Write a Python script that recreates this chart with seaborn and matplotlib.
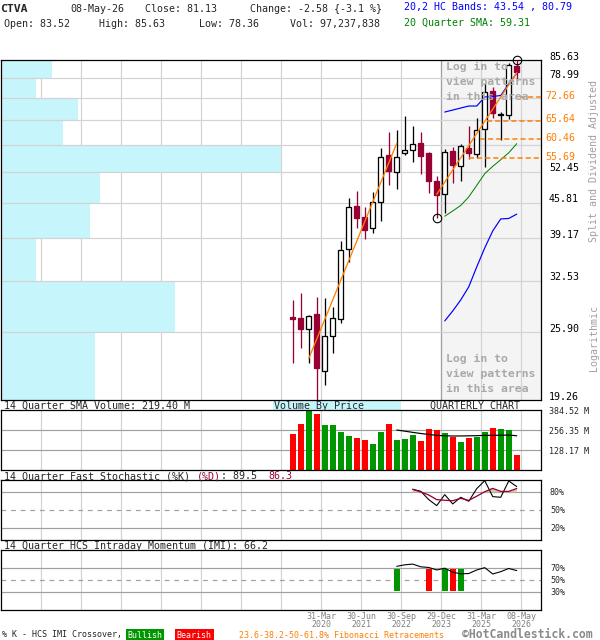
import numpy as np
import pandas as pd
import matplotlib
matplotlib.use("Agg")
import matplotlib.pyplot as plt
from matplotlib.patches import Rectangle
from matplotlib.ticker import NullLocator
import seaborn as sns

# ---------------- data ----------------
quarters = ["2019Q2", "2019Q3", "2019Q4",
            "2020Q1", "2020Q2", "2020Q3", "2020Q4",
            "2021Q1", "2021Q2", "2021Q3", "2021Q4",
            "2022Q1", "2022Q2", "2022Q3", "2022Q4",
            "2023Q1", "2023Q2", "2023Q3", "2023Q4",
            "2024Q1", "2024Q2", "2024Q3", "2024Q4",
            "2025Q1", "2025Q2", "2025Q3", "2025Q4",
            "2026Q1", "2026Q2"]
opens = [27.76, 27.57, 26.27, 28.10, 21.91, 25.54, 27.49, 37.30, 45.14, 43.06,
         40.92, 46.00, 56.44, 52.32, 57.00, 57.60, 59.58, 56.85, 50.36, 47.51,
         57.43, 53.70, 58.13, 56.68, 63.19, 74.76, 67.15, 67.21, 83.52]
highs = [29.88, 30.85, 27.95, 30.32, 30.18, 29.01, 38.70, 46.69, 48.27, 45.00,
         47.93, 58.13, 62.53, 63.00, 67.09, 64.11, 62.45, 57.25, 51.48, 57.86,
         58.37, 59.17, 64.11, 66.33, 77.32, 76.08, 68.15, 84.50, 85.63]
lows = [22.69, 24.17, 22.69, 19.26, 20.58, 23.65, 27.05, 35.35, 41.03, 39.10,
        40.04, 42.31, 49.48, 48.69, 56.44, 54.80, 51.93, 47.84, 42.74, 43.70,
        49.99, 50.42, 55.39, 55.63, 53.47, 66.40, 60.29, 66.20, 78.36]
closes = [27.52, 26.27, 27.85, 22.21, 25.51, 27.57, 37.20, 44.88, 42.76, 40.68,
          45.88, 55.88, 52.69, 55.88, 57.60, 59.17, 56.26, 50.42, 47.36, 57.25,
          53.94, 58.80, 57.00, 63.00, 74.53, 67.88, 67.45, 83.71, 81.13]
volumes_m = [231.1, 291.6, 384.52, 360.7, 289.4, 289.4, 246.3, 218.2, 205.2, 192.3,
             166.3, 244.1, 295.9, 192.3, 198.7, 224.7, 185.8, 263.5, 257.1, 237.6,
             213.9, 179.3, 205.2, 213.9, 244.1, 270.0, 263.5, 257.1, 97.24]

# indicator series (start index = first quarter where the series is shown)
band_start = 19
hc_upper = [68.15, 68.75, 69.36, 69.97, 69.97, 72.80, 72.96, 73.28, 77.08, 80.79]
hc_lower = [27.25, 28.47, 29.88, 31.64, 34.54, 37.54, 40.45, 42.63, 42.72, 43.54]
sma20 = [43.14, 44.15, 45.23, 46.96, 49.39, 52.00, 53.70, 55.29, 56.99, 59.31]

volsma_start = 13
vol_sma14 = [256.0, 249.0, 241.0, 234.0, 228.0, 222.0, 219.0, 218.0, 218.0, 219.0,
             220.0, 222.0, 222.0, 223.0, 224.0, 219.40]

stoch_start = 15
stoch_k = [85.0, 81.7, 67.8, 57.8, 76.1, 60.6, 71.7, 65.0, 86.1, 99.4, 72.8, 71.7, 98.9, 89.5]
stoch_d = [85.0, 80.6, 75.5, 67.8, 66.7, 66.0, 70.0, 66.5, 73.5, 81.0, 86.5, 81.5, 81.5, 86.3]

imi_start = 13
imi = [73.3, 75.8, 77.0, 72.5, 71.4, 67.2, 70.2, 63.5, 60.8, 61.3, 67.2, 71.1, 60.5, 64.4, 69.7, 66.2]

cross_idx = [13, 17, 19, 20, 21]
cross_type = ["bull", "bear", "bull", "bear", "bull"]

fib_levels = [72.66, 65.64, 60.46, 55.69]
trend1_x, trend1_y = [2, 13], [23.1, 59.4]
trend2_x, trend2_y = [18, 28], [47.5, 81.0]
pivot_x, pivot_y = [18, 28], [42.74, 85.63]

# volume by price, bins between price grid levels (bottom -> top), millions
price_ticks = [19.26, 25.90, 32.53, 39.17, 45.81, 52.45, 59.08, 65.72, 72.36, 78.99, 85.63]
vbp_volume = [655, 1208, 246, 621, 690, 1939, 433, 536, 246, 357]

date_idx = [3, 8, 13, 18, 23, 28]
date_days = ["31-Mar", "30-Jun", "30-Sep", "29-Dec", "31-Mar", "08-May"]
date_years = ["2020", "2021", "2022", "2023", "2025", "2026"]

# ---------------- style ----------------
sns.set_style("white")
plt.rcParams["font.family"] = ["DejaVu Sans Mono", "DejaVu Sans"]
plt.rcParams["axes.linewidth"] = 0.9

W, H = 600, 640
PX = 0.72  # points per pixel at 100 dpi
fig = plt.figure(figsize=(6, 6.4), dpi=100)


def rect(x0, y0, x1, y1):
    return [x0 / W, 1 - y1 / H, (x1 - x0) / W, (y1 - y0) / H]


def ftext(px, py, s, **kw):
    kw.setdefault("va", "center")
    kw.setdefault("fontsize", 7.2)
    return fig.text(px / W, 1 - py / H, s, **kw)


idx = np.arange(len(quarters))
XMIN, XMAX = -36.53, 30.97
grid_x = [3.5 + 5 * k for k in range(-7, 6)]
GRID = "#d3d3d3"
DGRID = "#a0a0a0"
MAROON = "#990033"
GREEN = "#009600"
RED = "#ff0000"
ORANGE = "#ff7f00"

ax = fig.add_axes(rect(0.5, 60, 540.5, 400))
axv = fig.add_axes(rect(0.5, 410, 540.5, 470))
axs = fig.add_axes(rect(0.5, 480.3, 540.5, 540.3))
axi = fig.add_axes(rect(0.5, 550.3, 540.5, 610.3))

for a in (ax, axv, axs, axi):
    a.set_xlim(XMIN, XMAX)
    a.set_xticks(grid_x)
    a.set_axisbelow(True)
    a.grid(axis="x", color=GRID, lw=PX * 1.2)
    a.tick_params(left=False, bottom=False, labelleft=False, labelbottom=False)
    for s in a.spines.values():
        s.set_color("black")

# ---------------- main price chart ----------------
ax.set_yscale("log")
ax.set_ylim(price_ticks[0], price_ticks[-1])
ax.set_yticks(price_ticks)
ax.yaxis.set_minor_locator(NullLocator())
ax.tick_params(which="both", left=False, labelleft=False)
ax.axvspan(18.5, XMAX, color="#f4f4f4", zorder=0.2, lw=0)
ax.axvline(18.5, color=DGRID, lw=PX * 1.2, zorder=0.6)
for t in price_ticks[1:-1]:
    ax.axhline(t, color=GRID, lw=PX * 1.2, zorder=1.5)

# volume by price
vbp_scale = 35.1 / max(vbp_volume)
ax.barh(price_ticks[:-1], np.array(vbp_volume) * vbp_scale, height=np.diff(price_ticks),
        left=XMIN, align="edge", color="#c6f5fc", lw=0, zorder=1)

o = np.array(opens); c = np.array(closes)
bear = c < o
wick_col = [MAROON if b else "black" for b in bear]
ax.vlines(idx, lows, highs, colors=wick_col, lw=PX * 1.3, zorder=3)
ax.bar(idx, np.maximum(np.abs(c - o), 0.05), bottom=np.minimum(o, c), width=0.66,
       color=[MAROON if b else "white" for b in bear], edgecolor=wick_col,
       lw=PX * 1.3, zorder=4)

bx = idx[band_start:]
bands = pd.DataFrame({"q": bx, "upper": hc_upper, "lower": hc_lower, "sma": sma20})
sns.lineplot(data=bands, x="q", y="upper", ax=ax, color="#0000ff", lw=PX * 1.2, zorder=5)
sns.lineplot(data=bands, x="q", y="lower", ax=ax, color="#0000ff", lw=PX * 1.2, zorder=5)
sns.lineplot(data=bands, x="q", y="sma", ax=ax, color="#008000", lw=PX * 1.0, zorder=5)

sns.lineplot(x=trend1_x, y=trend1_y, ax=ax, color=ORANGE, lw=PX * 1.3, zorder=6)
sns.lineplot(x=trend2_x, y=trend2_y, ax=ax, color=ORANGE, lw=PX * 1.3, zorder=6)

fib_from = [28.4, 24.3, 23.4, 22.0]
for lvl, x0 in zip(fib_levels, fib_from):
    ax.hlines(lvl, x0, XMAX, colors=ORANGE, lw=1.1, linestyles=[(0, (3.3, 2.0))], zorder=6)
    ax.annotate(f"{lvl:.2f}", xy=(1, lvl), xycoords=("axes fraction", "data"),
                xytext=(4.5 * PX, 1.5 * PX), textcoords="offset points",
                ha="left", va="center", fontsize=7.2, color=ORANGE, annotation_clip=False)

ax.plot(pivot_x, pivot_y, "o", ms=8.5 * PX, mfc="none", mec="black", mew=PX * 1.1,
        zorder=7, clip_on=False)
ax.set_xlabel(""); ax.set_ylabel("")

hidden = {59.08, 65.72, 72.36}
for t in price_ticks:
    if t in hidden:
        continue
    ax.annotate(f"{t:.2f}", xy=(1, t), xycoords=("axes fraction", "data"),
                xytext=(8.5 * PX, 3.5 * PX), textcoords="offset points",
                ha="left", va="center", fontsize=7.2, color="black", annotation_clip=False)

for j, line in enumerate(["Log in to", "view patterns", "in this area"]):
    ftext(446.5, 66.7 + 15 * j, line, fontsize=8.25, fontweight="bold", color="#a9a9a9")
    ftext(446.5, 359 + 15 * j, line, fontsize=8.25, fontweight="bold", color="#a9a9a9")

# ---------------- volume panel ----------------
axv.set_ylim(0, 384.52)
axv.set_yticks([128.17, 256.35])
axv.grid(axis="y", color=DGRID, lw=PX * 1.2)
axv.bar(idx, volumes_m, width=0.75, color=[RED if b else GREEN for b in bear], lw=0, zorder=2)
sns.lineplot(x=idx[volsma_start:], y=vol_sma14, ax=axv, color="black", lw=PX * 1.2, zorder=3)
axv.set_xlabel(""); axv.set_ylabel("")
for v in [384.52, 256.35, 128.17]:
    axv.annotate(f"{v:.2f} M", xy=(1, v), xycoords=("axes fraction", "data"),
                 xytext=(8.5 * PX, -1.5 * PX), textcoords="offset points",
                 ha="left", va="center", fontsize=6, annotation_clip=False)

# ---------------- stochastic panel ----------------
axs.set_ylim(0, 100)
axs.set_yticks([20, 80])
axs.grid(axis="y", color=DGRID, lw=PX * 1.2)
axs.axhline(50, color=DGRID, lw=PX * 1.2, ls=(0, (4, 4)))
sx = idx[stoch_start:]
sd = np.array(stoch_d)
axs.fill_between(sx, 80, sd, where=sd > 80, interpolate=True, color="#d8c9a3", lw=0, zorder=2)
sns.lineplot(x=sx, y=stoch_k, ax=axs, color="black", lw=PX * 1.1, zorder=3)
sns.lineplot(x=sx, y=stoch_d, ax=axs, color=MAROON, lw=PX * 1.3, zorder=3)
axs.set_xlabel(""); axs.set_ylabel("")
for v in [80, 50, 20]:
    axs.annotate(f"{v}%", xy=(1, v), xycoords=("axes fraction", "data"),
                 xytext=(9.5 * PX, 0), textcoords="offset points",
                 ha="left", va="center", fontsize=6, annotation_clip=False)

# ---------------- IMI panel ----------------
axi.set_ylim(0, 100)
axi.set_yticks([30, 70])
axi.grid(axis="y", color=DGRID, lw=PX * 1.2)
axi.axhline(50, color=DGRID, lw=PX * 1.2, ls=(0, (4, 4)))
axi.bar(cross_idx, [36] * len(cross_idx), bottom=32, width=0.75,
        color=[GREEN if t == "bull" else RED for t in cross_type], lw=0, zorder=2)
sns.lineplot(x=idx[imi_start:], y=imi, ax=axi, color="black", lw=PX * 1.1, zorder=3)
axi.set_xlabel(""); axi.set_ylabel("")
for v in [70, 50, 30]:
    axi.annotate(f"{v}%", xy=(1, v), xycoords=("axes fraction", "data"),
                 xytext=(9.5 * PX, 0), textcoords="offset points",
                 ha="left", va="center", fontsize=6, annotation_clip=False)

for i, d, y in zip(date_idx, date_days, date_years):
    xpx = 292.7 + 8 * (i + 0.62)
    ftext(xpx, 616.3, d, ha="center", fontsize=6, color="#808080")
    ftext(xpx, 624.3, y, ha="center", fontsize=6, color="#808080")

# ---------------- header & labels ----------------
ftext(0, 9, "CTVA", fontsize=8.25, fontweight="bold")
ftext(70, 9, "08-May-26")
ftext(145, 9, "Close: 81.13")
ftext(250, 9, "Change: -2.58 {-3.1 %}")
ftext(4.5, 24, "Open: 83.52")
ftext(99, 24, "High: 85.63")
ftext(199, 24, "Low: 78.36")
ftext(290, 24, "Vol: 97,237,838")
ftext(404.5, 6.7, "20,2 HC Bands: 43.54 , 80.79", color="#0000ff")
ftext(404.5, 22.3, "20 Quarter SMA: 59.31", color="#008000")

ftext(594, 160.5, "Split and Dividend Adjusted", rotation=90, ha="center", color="#a0a0a0")
ftext(594, 338, "Logarithmic", rotation=90, ha="center", color="#a0a0a0")

ftext(3.5, 405.7, "14 Quarter SMA Volume: 219.40 M")
fig.add_artist(Rectangle((273 / W, 1 - 410 / H), 128 / W, 9.5 / H, transform=fig.transFigure,
                         facecolor="#c6f5fc", edgecolor="none", zorder=0))
ftext(274, 405.7, "Volume By Price")
ftext(429.5, 405.7, "QUARTERLY CHART")

ftext(3.8, 476.3, "14 Quarter Fast Stochastic (%K) ")
ftext(3.8 + 32 * 6.02, 476.3, "(%D)", color=MAROON)
ftext(3.8 + 36 * 6.02, 476.3, ": 89.5")
ftext(3.8 + 44 * 6.02, 476.3, "86.3", color=MAROON)

ftext(3.8, 545.7, "14 Quarter HCS Intraday Momentum (IMI): 66.2")

ftext(2, 635, "% K - HCS IMI Crossover,", fontsize=6)
fig.add_artist(Rectangle((125.5 / W, 1 - 641 / H), 38.5 / W, 12 / H, transform=fig.transFigure,
                         facecolor=GREEN, edgecolor="none"))
ftext(144.7, 635, "Bullish", fontsize=6, color="white", ha="center")
fig.add_artist(Rectangle((175 / W, 1 - 641 / H), 38.5 / W, 12 / H, transform=fig.transFigure,
                         facecolor=RED, edgecolor="none"))
ftext(194.2, 635, "Bearish", fontsize=6, color="white", ha="center")
ftext(239, 635, "23.6-38.2-50-61.8% Fibonacci Retracements", fontsize=6, color=ORANGE)
ftext(462.5, 634.5, "\u00a9HotCandlestick.com", fontsize=8.3, fontweight="bold", color="#8a8a8a")

fig.savefig("out.png", dpi=100)
